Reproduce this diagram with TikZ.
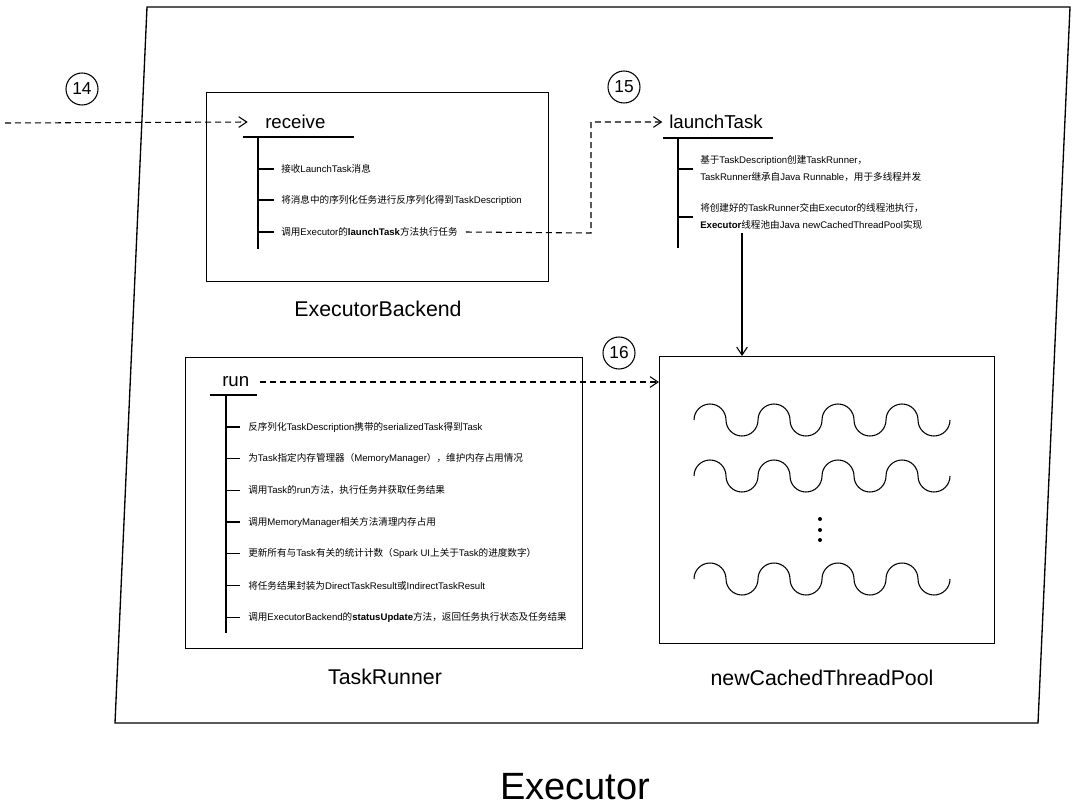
\documentclass[tikz,border=0pt]{standalone}
\usepackage{fontspec}
\setmainfont{Liberation Sans}
\newfontfamily\cjk{Noto Sans CJK SC}
\usetikzlibrary{arrows.meta,positioning}
\newcommand{\zhtxt}[1]{{\cjk #1}}

\begin{document}
\begin{tikzpicture}[x=0.75pt,y=-0.75pt,>={Straight Barb[length=6pt,width=8pt]},
  box/.style={draw,line width=1pt,inner sep=0pt},
  num/.style={draw,circle,line width=0.8pt,minimum size=24pt,inner sep=0pt,font=\fontsize{13}{13}\selectfont},
  head/.style={font=\fontsize{14}{14}\selectfont,inner sep=0pt,anchor=west},
  title/.style={font=\fontsize{16}{16}\selectfont,inner sep=0pt},
  item/.style={font=\fontsize{7.2}{12.75}\selectfont,anchor=west,inner sep=0pt,align=left},
  flow/.style={dash pattern=on 4.5pt off 3pt,line width=0.8pt,->},
  tree/.style={line width=1pt}]

\useasboundingbox (0,0) rectangle (1080,807);

% outer frame
\draw[line width=1pt] (147,7) -- (1070,7) -- (1038,723) -- (115,723) -- cycle;

% boxes
\node[box,anchor=north west,minimum width=256.5pt,minimum height=141.75pt] (eb) at (206,92) {};
\node[box,anchor=north west,minimum width=297.75pt,minimum height=218.25pt] (tr) at (185,357) {};
\node[box,anchor=north west,minimum width=251.25pt,minimum height=215.25pt] (pool) at (659,356) {};

\node[title] (ebname) at (378,309) {ExecutorBackend};
\node[title] (trname) at (385,677) {TaskRunner};
\node[title] (poolname) at (822,678) {newCachedThreadPool};
\node[font=\fontsize{28.5}{28.5}\selectfont,inner sep=0pt] (exname) at (575,787) {Executor};

% step numbers
\node[num] (n14) at (82,89) {14};
\node[num] (n15) at (624,87) {15};
\node[num] (n16) at (619,353) {16};

% receive
\node[head] (recv) at (265,122) {receive};
\draw[tree] (243,137) -- (354,137) (258,137) -- (258,249);
\foreach \y in {169,200,232}
  \draw[tree] (258,\y) -- (274,\y);
\node[item] (r1) at (281,169) {\zhtxt{接收}LaunchTask\zhtxt{消息}};
\node[item] (r2) at (281,200) {\zhtxt{将消息中的序列化任务进行反序列化得到}TaskDescription};
\node[item] (r3) at (281,232) {\zhtxt{调用}Executor\zhtxt{的}\textbf{launchTask}\zhtxt{方法执行任务}};

% launchTask
\node[head] (lt) at (669,122) {launchTask};
\draw[tree] (663,138) -- (773,138) (678,138) -- (678,248);
\foreach \y in {169,217}
  \draw[tree] (678,\y) -- (693,\y);
\node[item] (l1) at (700,168.5) {\zhtxt{基于}TaskDescription\zhtxt{创建}TaskRunner\zhtxt{，}\\TaskRunner\zhtxt{继承自}Java Runnable\zhtxt{，用于多线程并发}};
\node[item] (l2) at (700,216.5) {\zhtxt{将创建好的}TaskRunner\zhtxt{交由}Executor\zhtxt{的线程池执行，}\\\textbf{Executor}\zhtxt{线程池由}Java newCachedThreadPool\zhtxt{实现}};

% run
\node[head] (run) at (222,382) {run};
\draw[tree] (210,395) -- (257,395) (226,395) -- (226,633);
\foreach \y in {427,458.7,490.4,522.1,553.8,585.5,617.2}
  \draw[tree] (226,\y) -- (240,\y);
\node[item] (t1) at (248,427) {\zhtxt{反序列化}TaskDescription\zhtxt{携带的}serializedTask\zhtxt{得到}Task};
\node[item] (t2) at (248,458.7) {\zhtxt{为}Task\zhtxt{指定内存管理器（}MemoryManager\zhtxt{），维护内存占用情况}};
\node[item] (t3) at (248,490.4) {\zhtxt{调用}Task\zhtxt{的}run\zhtxt{方法，执行任务并获取任务结果}};
\node[item] (t4) at (248,522.1) {\zhtxt{调用}MemoryManager\zhtxt{相关方法清理内存占用}};
\node[item] (t5) at (248,553.8) {\zhtxt{更新所有与}Task\zhtxt{有关的统计计数（}Spark UI\zhtxt{上关于}Task\zhtxt{的进度数字）}};
\node[item] (t6) at (248,585.5) {\zhtxt{将任务结果封装为}DirectTaskResult\zhtxt{或}IndirectTaskResult};
\node[item] (t7) at (248,617.2) {\zhtxt{调用}ExecutorBackend\zhtxt{的}\textbf{statusUpdate}\zhtxt{方法，返回任务执行状态及任务结果}};

% threads
\foreach \y in {420,476,579}
  \draw[line width=0.8pt] (694,\y) \foreach \k in {1,...,4} {arc[start angle=180,end angle=0,radius=12pt] arc[start angle=180,end angle=360,radius=12pt]};
\foreach \y in {519,530,540}
  \fill (820,\y) circle (1.5pt);

% arrows
\coordinate (in14) at (5,123);
\coordinate (bend15) at (591,233);
\coordinate (lt0) at (742,233);
\draw[flow] (in14) -- ([xshift=-13pt]recv.west);
\draw[flow] ([xshift=6pt]r3.east) -- (bend15) |- ([xshift=-5pt]lt.west);
\draw[line width=0.8pt,->] (lt0) -- (lt0 |- pool.north);
\draw[flow] ([xshift=8pt]run.east) -- (run.east -| pool.west);
\end{tikzpicture}
\end{document}
